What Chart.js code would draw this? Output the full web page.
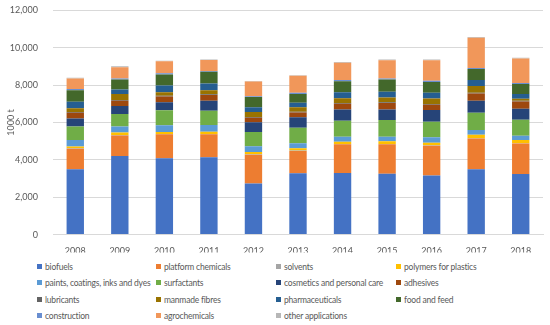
<!DOCTYPE html>
<html>
<head>
<meta charset="utf-8">
<script src="https://cdn.jsdelivr.net/npm/chart.js@4"></script>
<style>
  body { margin: 0; background: #fff; font-family: Lato, "Open Sans", sans-serif; }
  #wrap { position: relative; width: 550px; height: 325px; overflow: hidden; }
  #box { position: absolute; left: 0; top: -10px; width: 550px; height: 265px; }
  #legend { position: absolute; left: 37px; top: 262px; width: 510px; }
  .item { position: absolute; font-size: 8.5px; letter-spacing: -0.2px; color: #595959; white-space: nowrap; line-height: 11px; }
  .item span { display: inline-block; width: 5px; height: 5px; margin-right: 3px; vertical-align: 1px; }
</style>
</head>
<body>
<div id="wrap">
  <div id="box"><canvas id="chart"></canvas></div>
  <div id="legend"></div>
</div>
<script>
const years = ['2008', '2009', '2010', '2011', '2012', '2013', '2014', '2015', '2016', '2017', '2018'];
const yTicks = [0, 2000, 4000, 6000, 8000, 10000, 12000];

// 1000 t per application, bottom of the stack first
const biofuels = [3500, 4210, 4090, 4140, 2740, 3280, 3300, 3260, 3160, 3500, 3250];
const platformChemicals = [1100, 1100, 1280, 1230, 1540, 1200, 1530, 1570, 1600, 1640, 1620];
const solvents = [20, 20, 20, 20, 20, 20, 20, 20, 20, 20, 20];
const polymers = [90, 130, 100, 120, 120, 120, 120, 140, 140, 190, 180];
const paints = [360, 320, 360, 360, 310, 270, 270, 250, 290, 250, 220];
const surfactants = [710, 670, 800, 760, 760, 830, 860, 890, 830, 920, 860];
const cosmetics = [440, 430, 440, 530, 530, 560, 600, 570, 630, 640, 580];
const adhesives = [300, 280, 300, 310, 240, 260, 300, 340, 280, 390, 390];
const lubricants = [40, 40, 40, 40, 40, 40, 40, 40, 40, 40, 40];
const manmadeFibres = [200, 320, 190, 220, 260, 230, 260, 260, 300, 360, 110];
const pharmaceuticals = [350, 250, 360, 360, 260, 250, 320, 300, 300, 320, 260];
const foodAndFeed = [620, 530, 590, 620, 540, 460, 590, 660, 580, 590, 530];
const construction = [60, 60, 70, 50, 50, 70, 60, 60, 60, 60, 60];
const agrochemicals = [570, 600, 640, 580, 780, 910, 930, 970, 1100, 1620, 1300];
const otherApplications = [30, 50, 30, 30, 30, 30, 40, 40, 40, 40, 40];

const seriesNames = ['biofuels', 'platform chemicals', 'solvents', 'polymers for plastics',
  'paints, coatings, inks and dyes', 'surfactants', 'cosmetics and personal care', 'adhesives',
  'lubricants', 'manmade fibres', 'pharmaceuticals', 'food and feed',
  'construction', 'agrochemicals', 'other applications'];
const seriesData = [biofuels, platformChemicals, solvents, polymers, paints, surfactants, cosmetics,
  adhesives, lubricants, manmadeFibres, pharmaceuticals, foodAndFeed, construction, agrochemicals, otherApplications];
const colors = ['#4472C4', '#ED7D31', '#A5A5A5', '#FFC000', '#5B9BD5', '#70AD47', '#264478', '#9E480E',
  '#636363', '#997300', '#255E91', '#43682B', '#698ED0', '#F1975A', '#B7B7B7'];

const datasets = seriesNames.map((name, i) => ({
  label: name,
  data: seriesData[i],
  backgroundColor: colors[i],
  borderWidth: 0,
  categoryPercentage: 1,
  barPercentage: 0.39
}));

const ctx = document.getElementById('chart').getContext('2d');
new Chart(ctx, {
  type: 'bar',
  data: { labels: years, datasets: datasets },
  options: {
    responsive: true,
    maintainAspectRatio: false,
    animation: false,
    layout: { padding: { top: 0, right: 7, left: 6, bottom: 0 } },
    plugins: {
      legend: { display: false },
      tooltip: { enabled: false }
    },
    scales: {
      x: {
        stacked: true,
        grid: { display: false },
        border: { color: '#D9D9D9' },
        ticks: { color: '#595959', font: { family: 'Lato', size: 9 }, padding: 3 },
        afterFit: function(scale) { scale.height = 18; }
      },
      y: {
        stacked: true,
        min: 0,
        max: 12000,
        afterBuildTicks: function(scale) { scale.ticks = yTicks.map(v => ({ value: v })); },
        grid: { color: '#D9D9D9', drawTicks: false },
        border: { display: false },
        ticks: {
          color: '#595959',
          font: { family: 'Lato', size: 9 },
          padding: 15,
          callback: v => v.toLocaleString('en-US')
        },
        title: { display: true, text: '1000 t', color: '#595959', font: { family: 'Lato', size: 9 }, padding: 0 },
        afterFit: function(scale) { scale.width = 47; }
      }
    }
  }
});

// legend laid out in four columns like the original
const legend = document.getElementById('legend');
const colX = [0, 119, 239, 359];
seriesNames.forEach((name, i) => {
  const div = document.createElement('div');
  div.className = 'item';
  div.style.left = colX[i % 4] + 'px';
  div.style.top = (Math.floor(i / 4) * 16.4) + 'px';
  div.innerHTML = `<span style="background:${colors[i]}"></span>${name}`;
  legend.appendChild(div);
});
</script>
</body>
</html>
